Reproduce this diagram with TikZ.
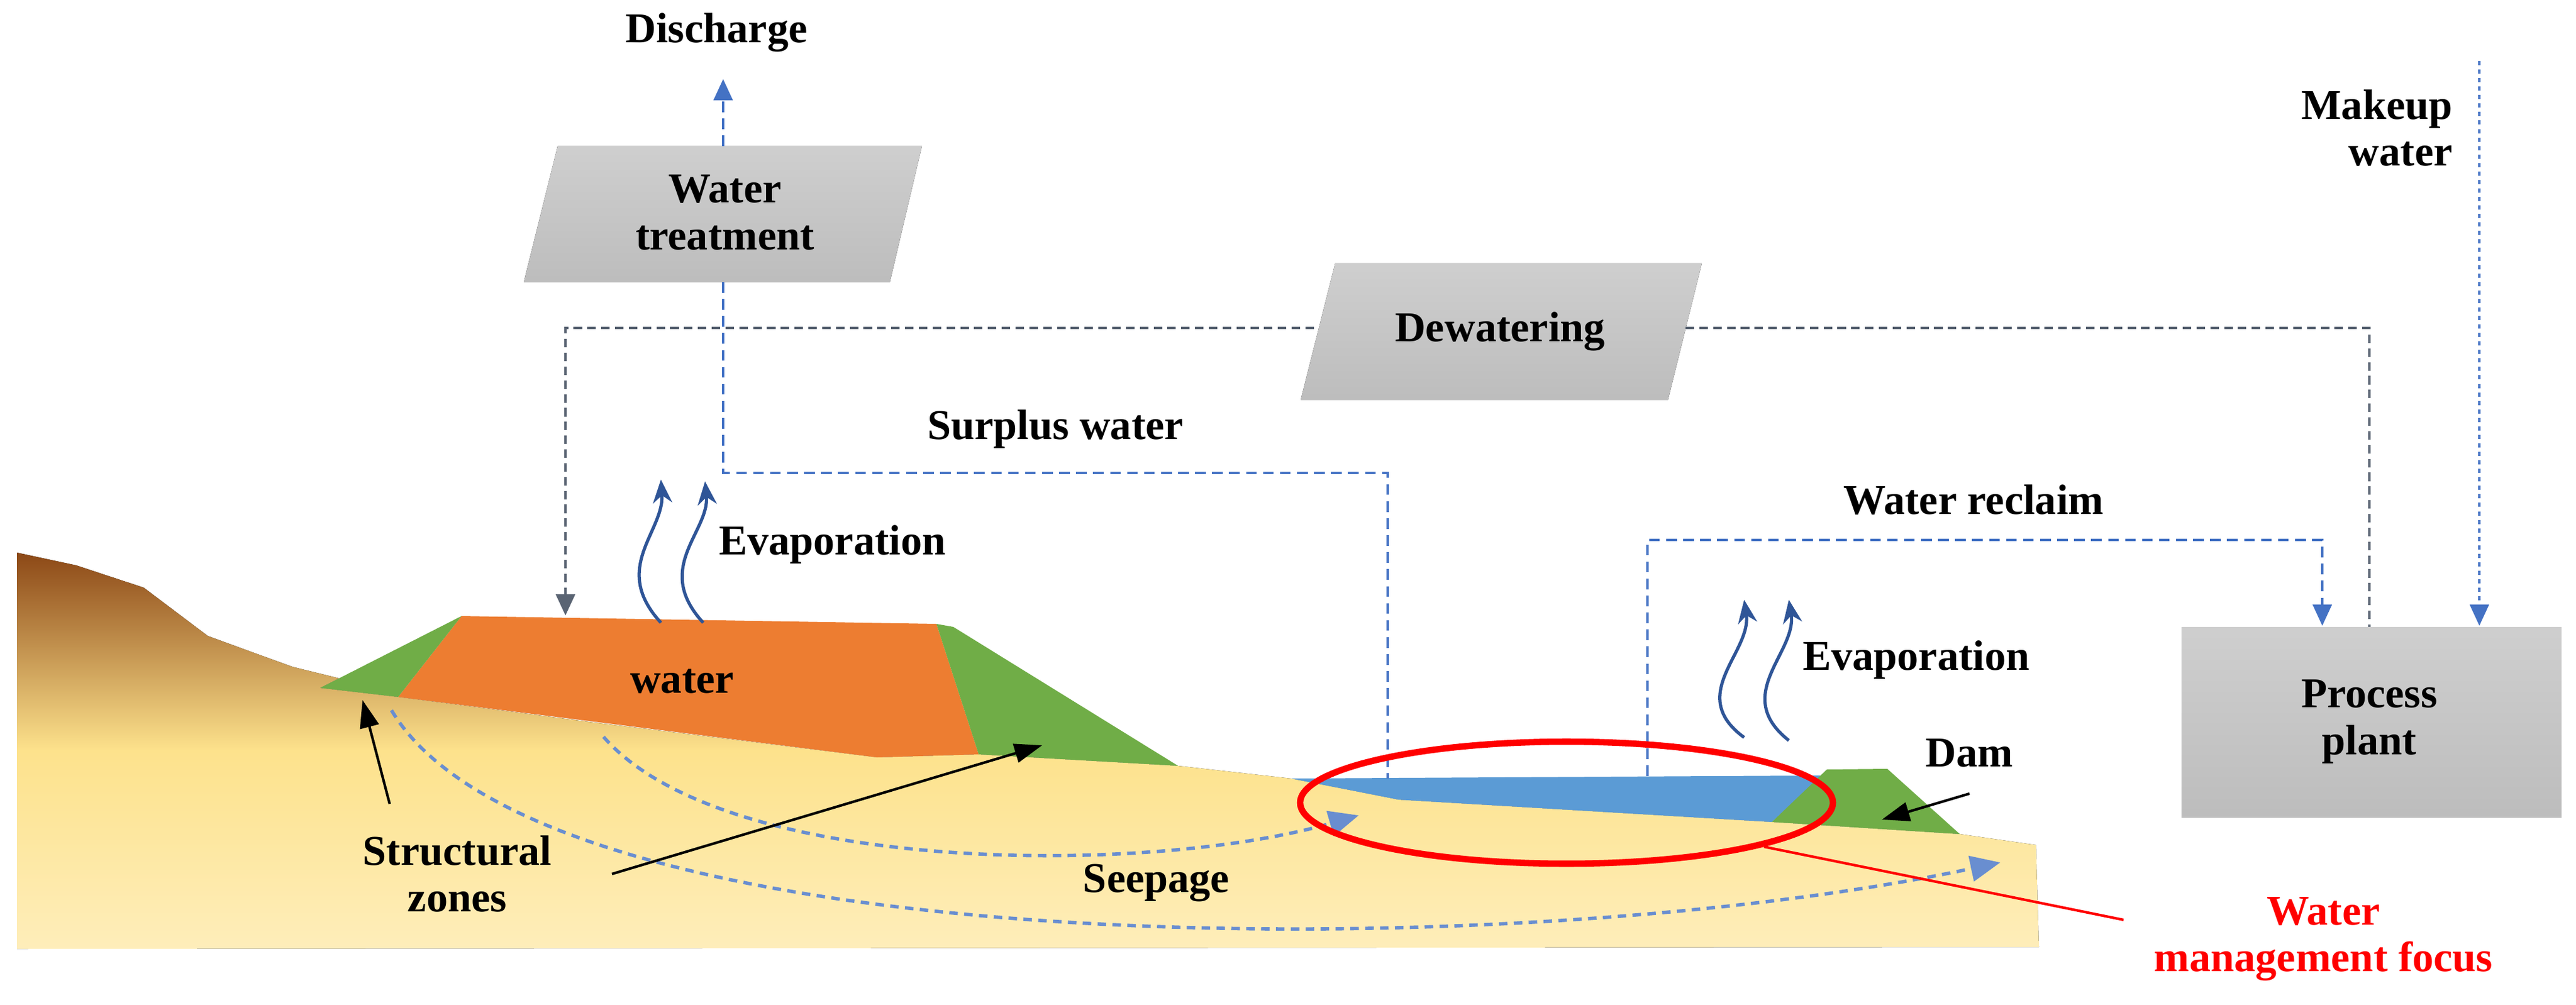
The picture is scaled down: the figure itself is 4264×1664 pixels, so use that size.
\documentclass[tikz,border=0pt]{standalone}
\usepackage{fontspec}
\setmainfont{Liberation Serif}
\usetikzlibrary{arrows.meta}
\definecolor{gblue}{RGB}{68,114,196}
\definecolor{ggray}{RGB}{90,100,115}
\definecolor{evap}{RGB}{47,85,151}
\definecolor{pond}{RGB}{91,155,213}
\definecolor{grn}{RGB}{112,173,71}
\definecolor{org}{RGB}{237,125,49}
\definecolor{brn}{RGB}{140,72,22}
\definecolor{tan}{RGB}{214,168,95}
\definecolor{ylw}{RGB}{253,226,140}
\begin{document}
\begin{tikzpicture}[x=0.01cm,y=-0.01cm,
  lbl/.style={font=\fontsize{20}{24}\selectfont\bfseries, align=center},
  flow/.style={gblue, line width=0.9pt, dash pattern=on 5pt off 3pt},
  dflow/.style={ggray, line width=1.1pt, dash pattern=on 4pt off 2.5pt},
  seep/.style={gblue!80, line width=1.6pt, dash pattern=on 4pt off 3pt},
  tip/.style={-{Triangle[width=9pt,length=10pt]}},
  box/.style={top color=gray!38, bottom color=gray!52, draw=none},
  ev/.style={evap, line width=1.5pt, -{Stealth[width=9pt,length=11pt]}},
  poin/.style={black, line width=1.2pt, -{Triangle[width=9pt,length=13pt]}}]
\useasboundingbox (0,0) rectangle (4264,1664);
% ground
\fill[top color=brn, bottom color=ylw!60, middle color=ylw] (28,915) -- (126,936) -- (238,973) -- (344,1053) -- (484,1104) -- (561,1123) -- (530,1139) -- (659,1154) -- (982,1196) -- (1452,1254) -- (1620,1249) -- (1950,1268) -- (2137,1289) -- (2315,1324) -- (2933,1361) -- (3244,1381) -- (3370,1399) -- (3375,1568) -- (28,1571) -- cycle;
% tailings dam
\fill[org] (764,1020) -- (1550,1033) -- (1620,1249) -- (1452,1254) -- (659,1154) -- cycle;
\fill[grn] (764,1020) -- (530,1139) -- (659,1154) -- cycle;
\fill[grn] (1550,1033) -- (1578,1038) -- (1950,1268) -- (1620,1249) -- cycle;
\node[lbl, font=\fontsize{20}{24}\selectfont\bfseries] (water) at (1129,1128) {water};
% pond and dam
\fill[pond] (2137,1289) -- (3016,1284) -- (2933,1361) -- (2315,1324) -- cycle;
\fill[grn] (2933,1361) -- (3024,1274) -- (3124,1273) -- (3244,1381) -- cycle;
% boxes
\fill[box] (923,242) -- (1526,242) -- (1473,467) -- (867,467) -- cycle;
\node[lbl] (wt) at (1200,352) {Water\\[-2pt]treatment};
\fill[box] (2210,436) -- (2817,436) -- (2761,662) -- (2153,662) -- cycle;
\node[lbl] (dw) at (2483,549) {Dewatering};
\fill[box] (3611,1038) rectangle (4240,1353);
\node[lbl] (pp) at (3922,1195) {Process\\[-2pt]plant};
% coordinates
\coordinate (wtT) at (1197,242);
\coordinate (dis) at (1197,131);
\coordinate (wtB) at (1197,467);
\coordinate (pondA) at (2297,1289);
\coordinate (pondB) at (2727,1285);
\coordinate (dwL) at (2175,543);
\coordinate (dwR) at (2790,543);
\coordinate (tsf) at (936,1019);
\coordinate (ppA) at (3844,1036);
\coordinate (ppB) at (3922,1038);
\coordinate (ppC) at (4104,1036);
\coordinate (mk) at (4104,101);
% labels
\node[lbl] (dlab) at (1186,54) {Discharge};
\node[lbl] (sw) at (1747,711) {Surplus water};
\node[lbl] (wr) at (3267,828) {Water reclaim};
\node[lbl, align=right, anchor=east] (mw) at (4072,212) {Makeup\\[-2pt]water};
\node[lbl, anchor=west] (ev1) at (1178,902) {Evaporation};
\node[lbl, anchor=west] (ev2) at (2972,1093) {Evaporation};
\node[lbl] (dam) at (3260,1247) {Dam};
\node[lbl] (sz) at (757,1447) {Structural\\[-2pt]zones};
\node[lbl] (sp) at (1914,1462) {Seepage};
\node[lbl, red] (wm) at (3846,1555) {Water\\[-2pt]management focus};
% flows
\draw[flow, tip] (wtT) -- (dis);
\draw[flow] (wtB) -- (1197,783) -- (2297,783) -- (pondA);
\draw[dflow, tip] (dwL) -- (936,543) -- (tsf);
\draw[dflow] (dwR) -- (3922,543) -- (ppB);
\draw[flow, tip] (pondB) -- (2727,894) -- (3844,894) -- (ppA);
\draw[flow, dash pattern=on 2pt off 2pt, tip] (mk) -- (ppC);
% evaporation
\draw[ev] (1094,1031) .. controls (1010,940) and (1100,880) .. (1094,794);
\draw[ev] (1164,1031) .. controls (1080,940) and (1175,880) .. (1167,797);
\draw[ev] (2887,1221) .. controls (2790,1150) and (2900,1080) .. (2887,993);
\draw[ev] (2961,1226) .. controls (2865,1150) and (2975,1080) .. (2961,993);
% seepage
\draw[seep, -{Triangle[width=12pt,length=14pt]}] (999,1220) .. controls (1200,1450) and (1900,1450) .. (2249,1350);
\draw[seep, -{Triangle[width=12pt,length=14pt]}] (648,1176) .. controls (900,1600) and (2500,1600) .. (3311,1428);
% pointers
\draw[poin] (645,1331) -- (600,1159);
\draw[poin] (1013,1447) -- (1725,1234);
\draw[poin] (3260,1314) -- (3115,1357);
% focus
\draw[red, line width=3pt] (2593,1329) ellipse [x radius=441, y radius=101];
\draw[red, line width=1.2pt] (2920,1402) -- (3515,1523);
\end{tikzpicture}
\end{document}
